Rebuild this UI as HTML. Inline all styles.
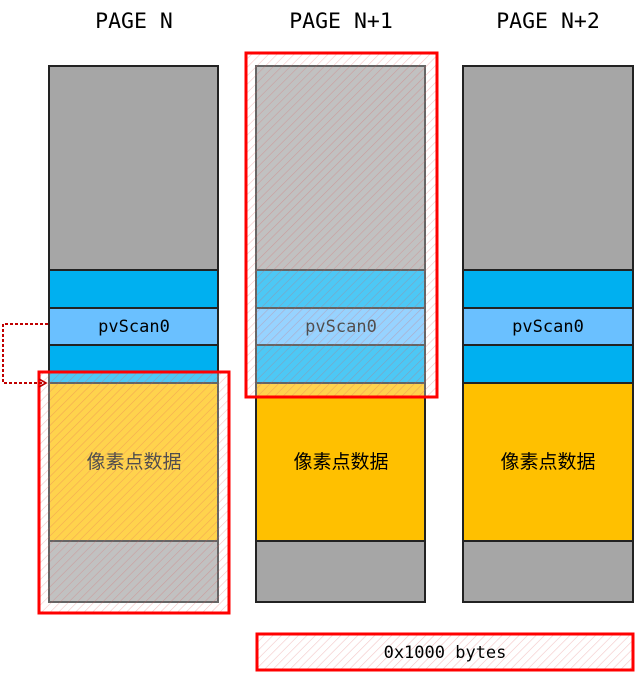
<!DOCTYPE html>
<html><head><meta charset="utf-8"><style>
html,body{margin:0;padding:0;background:#fff;}
svg{display:block;}
.t{font-family:"DejaVu Sans Mono","Liberation Mono",monospace;}
.c{font-family:"Liberation Sans","Noto Sans CJK SC",sans-serif;}
</style></head><body>
<svg width="636" height="699" viewBox="0 0 636 699" xmlns="http://www.w3.org/2000/svg">
<defs>
<pattern id="h" width="6" height="6" patternUnits="userSpaceOnUse" patternTransform="rotate(45)">
<rect width="6" height="6" fill="rgba(255,255,255,0.3)"/>
<line x1="0" y1="0" x2="0" y2="6" stroke="rgba(220,90,90,0.35)" stroke-width="1.2"/>
</pattern>
<marker id="a" markerWidth="10" markerHeight="10" refX="8" refY="5" orient="auto" markerUnits="userSpaceOnUse">
<path d="M1,1 L8,5 L1,9" fill="none" stroke="#c00000" stroke-width="1.6"/>
</marker>
</defs>
<g class="t" font-size="21.5" text-anchor="middle" fill="#000">
<text x="134" y="28">PAGE N</text>
<text x="341" y="28">PAGE N+1</text>
<text x="548" y="28">PAGE N+2</text>
</g>
<g stroke="#222" stroke-width="2">
<rect x="49" y="66" width="169" height="204" fill="#a6a6a6"/>
<rect x="49" y="270" width="169" height="38" fill="#00b0f0"/>
<rect x="49" y="308" width="169" height="37" fill="#6ac0ff"/>
<rect x="49" y="345" width="169" height="38" fill="#00b0f0"/>
<rect x="49" y="383" width="169" height="158" fill="#ffc000"/>
<rect x="49" y="541" width="169" height="61" fill="#a6a6a6"/>
<rect x="256" y="66" width="169" height="204" fill="#a6a6a6"/>
<rect x="256" y="270" width="169" height="38" fill="#00b0f0"/>
<rect x="256" y="308" width="169" height="37" fill="#6ac0ff"/>
<rect x="256" y="345" width="169" height="38" fill="#00b0f0"/>
<rect x="256" y="383" width="169" height="158" fill="#ffc000"/>
<rect x="256" y="541" width="169" height="61" fill="#a6a6a6"/>
<rect x="463" y="66" width="170" height="204" fill="#a6a6a6"/>
<rect x="463" y="270" width="170" height="38" fill="#00b0f0"/>
<rect x="463" y="308" width="170" height="37" fill="#6ac0ff"/>
<rect x="463" y="345" width="170" height="38" fill="#00b0f0"/>
<rect x="463" y="383" width="170" height="158" fill="#ffc000"/>
<rect x="463" y="541" width="170" height="61" fill="#a6a6a6"/>
</g>
<g class="t" font-size="17" text-anchor="middle" fill="#000">
<text x="134" y="332">pvScan0</text>
<text x="341" y="332">pvScan0</text>
<text x="548" y="332">pvScan0</text>
</g>
<g class="c" font-size="19" text-anchor="middle" fill="#000">
<text x="134" y="468">像素点数据</text>
<text x="341" y="468">像素点数据</text>
<text x="548" y="468">像素点数据</text>
</g>
<rect x="246" y="53" width="191" height="344" fill="url(#h)" stroke="#ff0000" stroke-width="3"/>
<rect x="39" y="372" width="190" height="241" fill="url(#h)" stroke="#ff0000" stroke-width="3"/>
<rect x="257" y="634" width="376" height="36" fill="url(#h)" stroke="#ff0000" stroke-width="3"/>
<text class="t" x="445" y="658" font-size="17" text-anchor="middle" fill="#000">0x1000 bytes</text>
<path d="M48,324 H3 V383 H46" fill="none" stroke="#c00000" stroke-width="2" stroke-dasharray="3,2" marker-end="url(#a)"/>
</svg>
</body></html>
